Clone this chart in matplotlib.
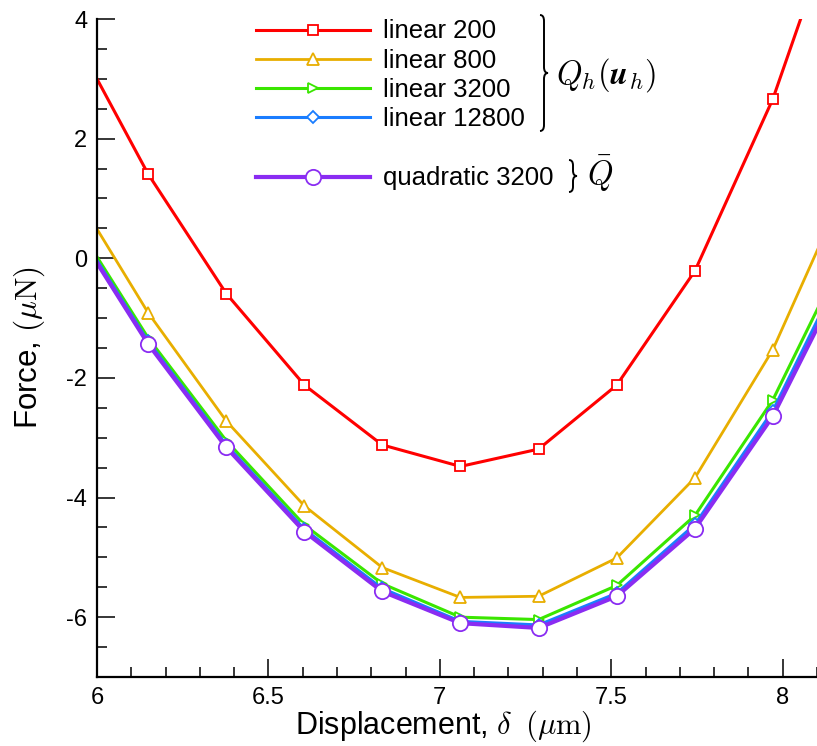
import matplotlib
matplotlib.use('Agg')
import matplotlib.pyplot as plt
from matplotlib.path import Path
from matplotlib.patches import PathPatch
from matplotlib.ticker import MultipleLocator, FuncFormatter

plt.rcParams['font.family'] = ['Liberation Sans', 'DejaVu Sans']
plt.rcParams['mathtext.fontset'] = 'cm'
plt.rcParams['axes.unicode_minus'] = False

# displacement (um) and force (uN) for each mesh
displacement = [5.921, 6.149, 6.377, 6.605, 6.832, 7.060, 7.288, 7.516, 7.744, 7.971, 8.199]
linear_200 = [3.84, 1.41, -0.59, -2.12, -3.12, -3.48, -3.19, -2.12, -0.21, 2.66, 6.42]
linear_800 = [1.23, -0.91, -2.72, -4.14, -5.17, -5.67, -5.65, -5.01, -3.67, -1.53, 1.39]
linear_3200 = [0.74, -1.33, -3.05, -4.46, -5.44, -6.00, -6.04, -5.47, -4.30, -2.37, 0.29]
linear_12800 = [0.68, -1.39, -3.12, -4.53, -5.52, -6.07, -6.13, -5.60, -4.45, -2.55, 0.10]
quadratic_3200 = [0.64, -1.43, -3.16, -4.57, -5.57, -6.10, -6.18, -5.65, -4.52, -2.64, -0.04]

labels = ['linear 200', 'linear 800', 'linear 3200', 'linear 12800', 'quadratic 3200']
series = [linear_200, linear_800, linear_3200, linear_12800, quadratic_3200]
colors = ['#ff0000', '#e8ae00', '#3ae600', '#1a7dff', '#8a2cf2']
markers = ['s', '^', '>', 'D', 'o']
msizes = [7.5, 9, 7, 6.5, 11]
lwidths = [2.2, 2.0, 2.2, 2.2, 3.0]

W, H = 817, 746
fig = plt.figure(figsize=(W / 100, H / 100), dpi=100)
ax = fig.add_axes([97 / W, 1 - 677 / H, 720 / W, 658 / H])

handles = []
for y, lab, c, m, ms, lw in zip(series, labels, colors, markers, msizes, lwidths):
    h, = ax.plot(displacement, y, color=c, lw=lw, marker=m, ms=ms,
                 mfc='white', mec=c, mew=1.3, label=lab)
    handles.append(h)

ax.set_xlim(6, 8.1)
ax.set_ylim(-7, 4)
ax.xaxis.set_major_locator(MultipleLocator(0.5))
ax.xaxis.set_minor_locator(MultipleLocator(0.1))
ax.yaxis.set_major_locator(MultipleLocator(2))
ax.yaxis.set_minor_locator(MultipleLocator(0.5))
ax.xaxis.set_major_formatter(FuncFormatter(lambda v, p: f'{v:g}'))
ax.yaxis.set_major_formatter(FuncFormatter(lambda v, p: f'{v:g}'))
ax.tick_params(which='both', direction='in', width=1.1, labelsize=17, color='black')
ax.tick_params(which='major', length=13, pad=7)
ax.tick_params(which='minor', length=7.5)
for s in ['top', 'right']:
    ax.spines[s].set_visible(False)
for s in ['left', 'bottom']:
    ax.spines[s].set_linewidth(1.6)

fig.text(443 / W, 1 - 726 / H, r'Displacement, $\delta\;\;(\mu\mathrm{m})$',
         ha='center', va='center', fontsize=22)
fig.text(29 / W, 1 - 348 / H, r'Force, $(\mu\mathrm{N})$',
         ha='center', va='center', fontsize=22.5, rotation=90)

# legends: four linear meshes, then the quadratic one
leg_kw = dict(bbox_transform=fig.transFigure, frameon=False, fontsize=18.5,
              handlelength=4.44, handletextpad=0.5, borderpad=0, borderaxespad=0,
              numpoints=1, loc='upper left')
leg1 = ax.legend(handles=handles[:4], bbox_to_anchor=(256 / W, 1 - 19.5 / H),
                 labelspacing=0.2, **leg_kw)
ax.add_artist(leg1)
ax.legend(handles=handles[4:], bbox_to_anchor=(256 / W, 1 - 166.5 / H), **leg_kw)


def brace(x0, y0, y1, w):
    # right-pointing curly brace in figure pixel coordinates
    xm = x0 + w / 2
    xr = x0 + w
    ym = (y0 + y1) / 2
    r = min(6, (y1 - y0) / 6)
    pts = [(x0, y0), (xm, y0), (xm, y0 + r), (xm, ym - r), (xm, ym), (xr, ym),
           (xm, ym), (xm, ym + r), (xm, y1 - r), (xm, y1), (x0, y1)]
    codes = [Path.MOVETO, Path.CURVE3, Path.CURVE3, Path.LINETO, Path.CURVE3, Path.CURVE3,
             Path.CURVE3, Path.CURVE3, Path.LINETO, Path.CURVE3, Path.CURVE3]
    pts = [(px / W, 1 - py / H) for px, py in pts]
    fig.add_artist(PathPatch(Path(pts, codes), transform=fig.transFigure,
                             fill=False, lw=1.4, color='black'))


brace(540, 15, 131, 8)
brace(569, 160, 192, 8)
fig.text(556 / W, 1 - 75 / H, r'$Q_h(\boldsymbol{u}_h)$', fontsize=23.5, ha='left', va='center')
fig.text(587 / W, 1 - 174 / H, r'$\bar{Q}$', fontsize=23.5, ha='left', va='center')

fig.savefig('out.png', dpi=100)
